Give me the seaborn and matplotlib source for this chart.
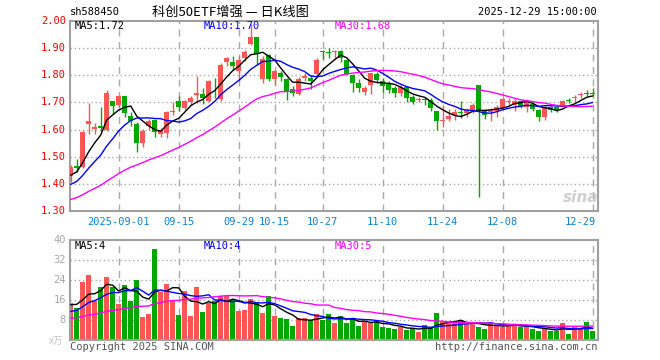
import numpy as np
import pandas as pd
import matplotlib
matplotlib.use('Agg')
import matplotlib.pyplot as plt
import seaborn as sns

CODE = "sh588450"
TITLE = "科创50ETF增强 — 日K线图"
STAMP = "2025-12-29 15:00:00"

# daily OHLC, 2025-08-20 .. 2025-12-29
opens = [1.430, 1.465, 1.463, 1.621, 1.602, 1.615, 1.600, 1.704, 1.691, 1.722,
         1.650, 1.622, 1.551, 1.613, 1.635, 1.583, 1.588, 1.665, 1.704, 1.679,
         1.700, 1.729, 1.732, 1.704, 1.776, 1.712, 1.848, 1.849, 1.815, 1.862,
         1.916, 1.940, 1.786, 1.876, 1.788, 1.808, 1.788, 1.750, 1.732, 1.790,
         1.790, 1.805, 1.888, 1.886, 1.884, 1.888, 1.855, 1.802, 1.771, 1.740,
         1.765, 1.806, 1.780, 1.771, 1.755, 1.735, 1.757, 1.719, 1.709, 1.712,
         1.709, 1.667, 1.630, 1.638, 1.654, 1.662, 1.660, 1.673, 1.765, 1.667,
         1.663, 1.667, 1.681, 1.702, 1.692, 1.704, 1.682, 1.695, 1.673, 1.648,
         1.683, 1.684, 1.685, 1.708, 1.718, 1.729, 1.733, 1.733]
highs = [1.468, 1.490, 1.595, 1.698, 1.623, 1.685, 1.744, 1.706, 1.728, 1.724,
         1.665, 1.628, 1.603, 1.640, 1.640, 1.605, 1.670, 1.700, 1.722, 1.710,
         1.725, 1.797, 1.755, 1.782, 1.790, 1.845, 1.868, 1.870, 1.870, 1.895,
         1.990, 1.942, 1.870, 1.878, 1.820, 1.815, 1.790, 1.760, 1.795, 1.810,
         1.800, 1.862, 1.895, 1.900, 1.895, 1.895, 1.860, 1.805, 1.785, 1.760,
         1.810, 1.812, 1.790, 1.780, 1.760, 1.765, 1.762, 1.727, 1.720, 1.720,
         1.715, 1.670, 1.686, 1.675, 1.675, 1.704, 1.680, 1.697, 1.766, 1.675,
         1.680, 1.690, 1.716, 1.716, 1.712, 1.708, 1.712, 1.700, 1.675, 1.690,
         1.688, 1.688, 1.710, 1.718, 1.728, 1.740, 1.744, 1.755]
lows = [1.407, 1.445, 1.460, 1.584, 1.584, 1.596, 1.596, 1.658, 1.683, 1.646,
        1.615, 1.516, 1.537, 1.600, 1.573, 1.573, 1.570, 1.652, 1.667, 1.672,
        1.690, 1.697, 1.695, 1.700, 1.716, 1.705, 1.835, 1.820, 1.780, 1.852,
        1.910, 1.838, 1.772, 1.778, 1.765, 1.780, 1.710, 1.725, 1.728, 1.780,
        1.750, 1.795, 1.860, 1.865, 1.865, 1.850, 1.800, 1.740, 1.740, 1.728,
        1.730, 1.770, 1.740, 1.735, 1.720, 1.725, 1.700, 1.695, 1.700, 1.690,
        1.670, 1.599, 1.611, 1.630, 1.636, 1.642, 1.648, 1.660, 1.352, 1.640,
        1.630, 1.648, 1.679, 1.690, 1.667, 1.680, 1.663, 1.667, 1.633, 1.636,
        1.663, 1.663, 1.683, 1.697, 1.703, 1.715, 1.722, 1.722]
closes = [1.463, 1.460, 1.592, 1.630, 1.611, 1.606, 1.736, 1.686, 1.722, 1.660,
          1.630, 1.550, 1.596, 1.633, 1.590, 1.598, 1.666, 1.670, 1.683, 1.704,
          1.716, 1.734, 1.716, 1.778, 1.774, 1.838, 1.862, 1.833, 1.857, 1.887,
          1.940, 1.880, 1.860, 1.786, 1.814, 1.795, 1.742, 1.735, 1.787, 1.797,
          1.778, 1.855, 1.885, 1.882, 1.888, 1.862, 1.806, 1.771, 1.753, 1.753,
          1.808, 1.783, 1.762, 1.745, 1.735, 1.757, 1.716, 1.703, 1.711, 1.708,
          1.680, 1.630, 1.636, 1.651, 1.663, 1.660, 1.672, 1.691, 1.673, 1.655,
          1.673, 1.683, 1.712, 1.705, 1.707, 1.688, 1.707, 1.676, 1.648, 1.683,
          1.671, 1.671, 1.706, 1.705, 1.721, 1.732, 1.731, 1.731]
# volume in 万手
volumes = [15.0, 12.8, 23.1, 26.2, 15.5, 21.3, 25.4, 21.2, 14.5, 22.2,
           15.5, 24.2, 9.4, 10.5, 36.4, 19.1, 22.6, 16.1, 10.1, 19.5,
           9.6, 21.4, 11.4, 14.8, 15.6, 17.7, 17.7, 15.9, 11.7, 12.1,
           16.5, 15.3, 11.0, 17.7, 9.6, 8.8, 8.4, 5.6, 8.8, 8.8,
           8.0, 10.5, 8.0, 10.5, 6.9, 9.6, 6.9, 8.3, 5.6, 7.4,
           6.9, 7.8, 5.3, 4.8, 4.5, 5.3, 4.2, 4.7, 3.2, 6.0,
           4.9, 11.0, 7.2, 6.7, 6.7, 8.0, 6.4, 6.4, 5.3, 4.5,
           6.9, 6.0, 5.3, 5.9, 5.9, 5.3, 5.3, 4.3, 3.7, 4.5,
           3.7, 3.7, 6.9, 2.5, 5.1, 4.7, 7.2, 3.7]

# sessions before the window, only feeding the moving averages
prior_closes = [1.26, 1.27, 1.26, 1.28, 1.27, 1.28, 1.27, 1.29, 1.29, 1.30,
                1.31, 1.33, 1.34, 1.35, 1.36, 1.36, 1.37, 1.38, 1.37, 1.36,
                1.35, 1.37, 1.36, 1.37, 1.37, 1.40, 1.42, 1.43, 1.447]
prior_volumes = [7, 7, 8, 7, 6, 7, 8, 7, 7, 8, 7, 8, 7, 7, 8, 7, 7, 8, 7, 9,
                 8, 9, 9, 8, 9.5, 12, 14, 15, 14.5]

holidays = ['2025-10-01', '2025-10-02', '2025-10-03', '2025-10-06', '2025-10-07', '2025-10-08']
tick_dates = ['2025-09-01', '2025-09-15', '2025-09-29', '2025-10-15', '2025-10-27',
              '2025-11-10', '2025-11-24', '2025-12-08', '2025-12-29']
tick_labels = ['2025-09-01', '09-15', '09-29', '10-15', '10-27',
               '11-10', '11-24', '12-08', '12-29']
price_ticks = [1.30, 1.40, 1.50, 1.60, 1.70, 1.80, 1.90, 2.00]
vol_ticks = [8, 16, 24, 32, 40]

RED = '#ff5555'
GREEN = '#00a800'
GRID = '#aaaaaa'
FRAME = '#a0a0a0'

sns.set_style('white')
plt.rcParams['font.family'] = ['DejaVu Sans Mono', 'Noto Sans CJK SC']

dates = pd.bdate_range('2025-08-20', '2025-12-29')
dates = dates[~dates.isin(pd.to_datetime(holidays))]
df = pd.DataFrame({'date': dates, 'open': opens, 'high': highs, 'low': lows,
                   'close': closes, 'vol': volumes})
df['x'] = np.arange(len(df))
df['up'] = df['close'] >= df['open']

c_all = pd.Series(prior_closes + closes)
v_all = pd.Series(prior_volumes + volumes)
n0 = len(prior_closes)
for n in (5, 10, 30):
    df[f'ma{n}'] = c_all.rolling(n).mean().iloc[n0:].values
    df[f'vma{n}'] = v_all.rolling(n).mean().iloc[n0:].values

tick_x = [int(df.index[df['date'] == pd.Timestamp(d)][0]) for d in tick_dates]

W, H = 660, 360
fig = plt.figure(figsize=(6.6, 3.6), dpi=100)
ax = fig.add_axes([70 / W, 1 - 211 / H, 527.5 / W, 190 / H])
axv = fig.add_axes([70 / W, 1 - 340 / H, 527.5 / W, 100 / H])

for a in (ax, axv):
    a.set_xlim(-0.12, 87.8)
    for s in a.spines.values():
        s.set_color(FRAME)
        s.set_linewidth(1.5)
    for tx in tick_x:
        a.axvline(tx, color=GRID, lw=1, ls=(0, (5, 4)), zorder=0)

ax.set_ylim(1.30, 2.00)
axv.set_ylim(0, 40)
for p in price_ticks[1:-1]:
    ax.axhline(p, color=GRID, lw=1, ls=(0, (1, 2)), zorder=0)
for v in vol_ticks[:-1]:
    axv.axhline(v, color=GRID, lw=1, ls=(0, (1, 2)), zorder=0)

# candles
colors = np.where(df['up'], RED, GREEN)
ax.vlines(df['x'], df['low'], df['high'], colors=colors, lw=1, zorder=2)
body = (df['close'] - df['open']).abs().clip(lower=0.003)
ax.bar(df['x'], body, bottom=df[['open', 'close']].min(axis=1),
       width=0.8, color=colors, lw=0, zorder=3)

sns.lineplot(data=df, x='x', y='ma5', ax=ax, color='black', lw=1, zorder=4)
sns.lineplot(data=df, x='x', y='ma10', ax=ax, color='#0000ff', lw=1, zorder=4)
sns.lineplot(data=df, x='x', y='ma30', ax=ax, color='#ff00ff', lw=1, zorder=4)

# volume
axv.bar(df['x'], df['vol'], width=0.8, color=colors, lw=0, zorder=2)
sns.lineplot(data=df, x='x', y='vma5', ax=axv, color='black', lw=1, zorder=4)
sns.lineplot(data=df, x='x', y='vma10', ax=axv, color='#0000ff', lw=1, zorder=4)
sns.lineplot(data=df, x='x', y='vma30', ax=axv, color='#ff00ff', lw=1, zorder=4)

for a in (ax, axv):
    a.set_xlabel('')
    a.set_ylabel('')
    a.set_xticks([])
    a.set_yticks([])


def px(x, y, s, **kw):
    fig.text(x / W, 1 - y / H, s, **kw)


def trunc(v, d=2):
    # sina cuts the MA figure instead of rounding it
    return np.floor(round(v, 3) * 10 ** d + 1e-9) / 10 ** d


for p in price_ticks:
    yy = 211 - (p - 1.30) / 0.70 * 190
    px(66, yy, f'{p:.2f}', color='red', fontsize=7.5, ha='right', va='center')
for v in vol_ticks:
    yy = 340 - v / 40 * 100
    px(66, yy, f'{v}', color='#a8a8a8', fontsize=7.5, ha='right', va='center')
px(63, 341, 'x万', color='#c8c8c8', fontsize=7, ha='right', va='center',
   family=['Noto Sans CJK SC', 'DejaVu Sans'])

for tx, lab in zip(tick_x, tick_labels):
    xx = 70 + (tx + 0.12) / 87.92 * 527.5
    ha = 'right' if lab == tick_labels[-1] else 'center'
    if ha == 'right':
        xx += 3
    px(xx, 222, lab, color='#0a84d8', fontsize=7.5, ha=ha, va='center')

px(70, 12, CODE, color='black', fontsize=7.5, ha='left', va='center')
px(230, 12, TITLE, color='black', fontsize=9.5, ha='center', va='center',
   family=['Noto Sans CJK SC', 'DejaVu Sans'])
px(597, 12, STAMP, color='black', fontsize=7.5, ha='right', va='center')

last = df.iloc[-1]
px(75, 26, f"MA5:{trunc(last['ma5']):.2f}", color='black', fontsize=7.5, va='center')
px(204, 26, f"MA10:{trunc(last['ma10']):.2f}", color='#0000ff', fontsize=7.5, va='center')
px(335, 26, f"MA30:{trunc(last['ma30']):.2f}", color='#ff00ff', fontsize=7.5, va='center')
px(75, 246, f"MA5:{int(last['vma5'])}", color='black', fontsize=7.5, va='center')
px(204, 246, f"MA10:{int(last['vma10'])}", color='#0000ff', fontsize=7.5, va='center')
px(335, 246, f"MA30:{int(last['vma30'])}", color='#ff00ff', fontsize=7.5, va='center')

px(70, 347, 'Copyright 2025 SINA.COM', color='#555555', fontsize=7.5, ha='left', va='center')
px(597, 347, 'http://finance.sina.com.cn', color='#555555', fontsize=7.5, ha='right', va='center')
px(598, 197, 'sina', color='#c4c4c4', fontsize=11, ha='right', va='center',
   family='DejaVu Sans', style='italic', weight='bold', alpha=0.8)

fig.savefig('out.png', dpi=100)
